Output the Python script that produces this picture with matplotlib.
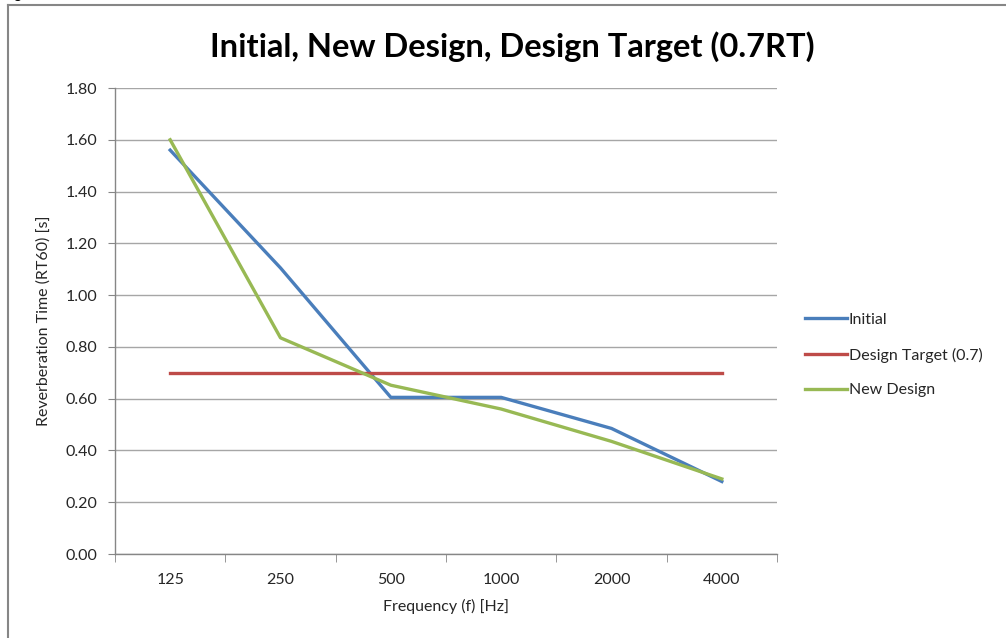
import matplotlib
matplotlib.use("Agg")
import matplotlib.pyplot as plt
from matplotlib.lines import Line2D

plt.rcParams['font.family'] = ['Lato', 'DejaVu Sans']

frequencies = ["125", "250", "500", "1000", "2000", "4000"]
initial = [1.56, 1.105, 0.605, 0.605, 0.485, 0.28]
design_target = [0.70, 0.70, 0.70, 0.70, 0.70, 0.70]
new_design = [1.60, 0.835, 0.652, 0.56, 0.435, 0.29]
y_ticks = [0.0, 0.2, 0.4, 0.6, 0.8, 1.0, 1.2, 1.4, 1.6, 1.8]

W, H = 1006, 638
fig = plt.figure(figsize=(W / 100, H / 100), dpi=100)
fig.patch.set_facecolor("white")

# chart frame (top and left edges visible)
frame_col = "#868686"
fig.add_artist(Line2D([8 / W, 1.0], [1 - 5 / H, 1 - 5 / H], color=frame_col, lw=1.5,
                      transform=fig.transFigure))
fig.add_artist(Line2D([8 / W, 8 / W], [0.0, 1 - 5 / H], color=frame_col, lw=1.5,
                      transform=fig.transFigure))
fig.text(13 / W, 1 + 2 / H, "g", fontsize=11, va="baseline", ha="left", color="#000000")

ax = fig.add_axes([115 / W, (H - 554) / H, 662 / W, 466 / H])
x = list(range(len(frequencies)))

grid_col = "#a6a6a6"
for yv in y_ticks:
    ax.axhline(yv, color=grid_col, lw=1.0, zorder=1)

ax.plot(x, initial, color="#4a7ebb", lw=2.4, label="Initial", zorder=3,
        solid_joinstyle="round")
ax.plot(x, design_target, color="#be4b48", lw=2.4, label="Design Target (0.7)", zorder=3)
ax.plot(x, new_design, color="#98b954", lw=2.4, label="New Design", zorder=4,
        solid_joinstyle="round")

ax.set_xlim(-0.5, len(frequencies) - 0.5)
ax.set_ylim(0, 1.8)
ax.set_yticks(y_ticks)
ax.set_yticklabels([f"{v:.2f}" for v in y_ticks])
ax.set_xticks(x)
ax.set_xticklabels(frequencies)
ax.set_xticks([i - 0.5 for i in range(len(frequencies) + 1)], minor=True)

for s in ["top", "right"]:
    ax.spines[s].set_visible(False)
for s in ["left", "bottom"]:
    ax.spines[s].set_color(frame_col)
    ax.spines[s].set_linewidth(1.0)

ax.tick_params(axis="x", which="major", length=0, pad=14, labelsize=11.5, colors="#262626")
ax.tick_params(axis="x", which="minor", length=6, color=frame_col, direction="out")
ax.tick_params(axis="y", length=5, color=frame_col, direction="out", pad=8,
               labelsize=11.5, colors="#262626")

ax.set_xlabel("Frequency (f) [Hz]", fontsize=11.5, color="#262626", labelpad=8)
ax.set_ylabel("Reverberation Time (RT60) [s]", fontsize=11.5, color="#262626", labelpad=10)

fig.text(512 / W, 1 - 47 / H, "Initial, New Design, Design Target (0.7RT)",
         fontsize=23.5, fontweight="bold", ha="center", va="center", color="#000000")

leg = ax.legend(loc="center left", bbox_to_anchor=(805 / W, 1 - 355 / H),
                bbox_transform=fig.transFigure, frameon=False, fontsize=11.5,
                handlelength=2.6, handletextpad=0.15, labelspacing=1.28,
                borderaxespad=0, borderpad=0)
for t in leg.get_texts():
    t.set_color("#262626")

fig.savefig("out.png", dpi=100, facecolor="white")
